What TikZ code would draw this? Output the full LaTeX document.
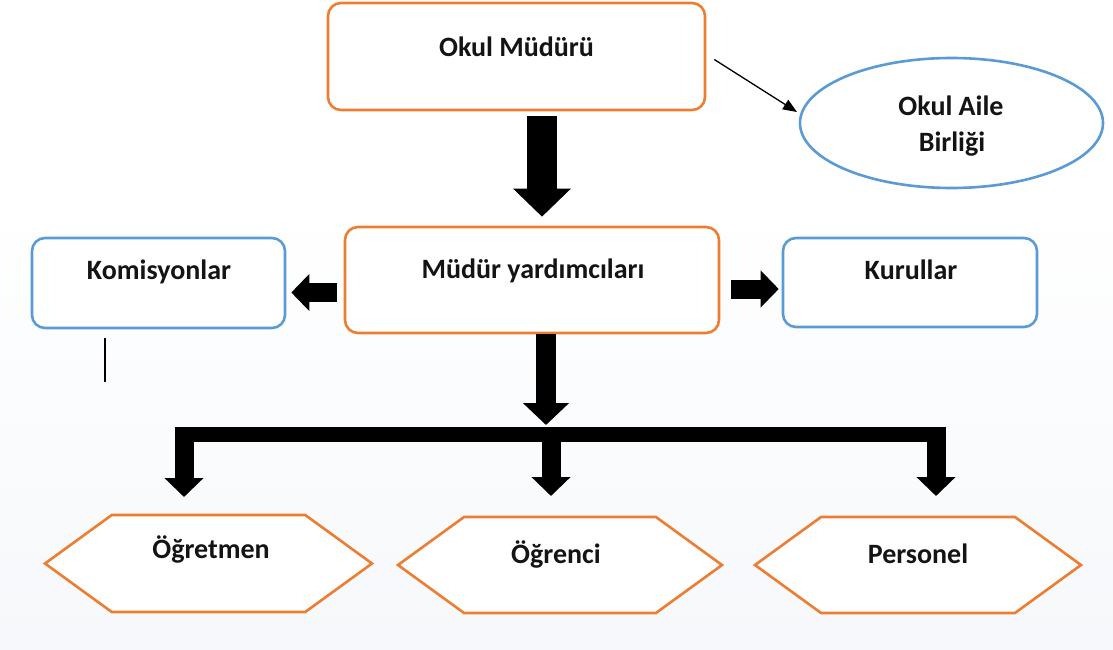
\documentclass[tikz,border=0pt]{standalone}
\usepackage{fontspec}
\setmainfont{Carlito}
\usetikzlibrary{arrows.meta,shapes.geometric,shapes.symbols,calc}
\definecolor{orng}{RGB}{237,125,49}
\definecolor{blu}{RGB}{91,155,213}
\definecolor{bgbot}{RGB}{246,248,251}
\begin{document}
\begin{tikzpicture}[x=1pt,y=-1pt,
  lbl/.style={font=\fontsize{28}{34}\selectfont\bfseries, anchor=base, inner sep=0pt, text=black!92},
  obox/.style={draw=orng, line width=2.6pt, rounded corners=13pt, fill=white, inner sep=0pt},
  bbox/.style={draw=blu, line width=2.6pt, rounded corners=13pt, fill=white, inner sep=0pt},
  hexa/.style={signal, signal to=west and east, signal pointer angle=72, draw=orng, line width=2.6pt, fill=white, inner sep=0pt},
  oval/.style={ellipse, draw=blu, line width=2.6pt, fill=white, inner sep=0pt},
  bigarrow/.style={line width=30pt, -{Triangle[length=28pt,width=56pt]}},
  sidearrow/.style={line width=19pt, -{Triangle[length=18pt,width=36pt]}},
  midarrow/.style={line width=20pt, -{Triangle[length=22pt,width=45pt]}},
  legarrow/.style={line width=19pt, -{Triangle[length=19pt,width=38pt]}},
  thinarrow/.style={line width=1.3pt, -{Triangle[length=14pt,width=11pt]}}
]
\useasboundingbox (0,0) rectangle (1113,650);
\fill[white] (0,0) rectangle (1113,650);
\shade[top color=white, bottom color=bgbot] (0,200) rectangle (1113,650);

% nodes
\node[obox, minimum width=377pt, minimum height=107pt] (om) at (516.5,56.5) {};
\node[lbl] (omt) at (516.5,57) {Okul Müdürü};

\node[oval, minimum width=303pt, minimum height=130pt] (oab) at (951.5,123) {};
\node[lbl] (oabt1) at (951,116) {Okul Aile};
\node[lbl] (oabt2) at (952,151) {Birliği};

\node[obox, minimum width=374pt, minimum height=106pt] (my) at (532,280) {};
\node[lbl] (myt) at (533,278) {Müdür yardımcıları};

\node[bbox, minimum width=253pt, minimum height=90pt] (kom) at (158.5,283) {};
\node[lbl] (komt) at (159,279) {Komisyonlar};

\node[bbox, minimum width=254pt, minimum height=89pt] (kur) at (910,282.5) {};
\node[lbl] (kurt) at (911,279) {Kurullar};

\node[hexa, minimum width=327pt, minimum height=97pt] (ogt) at (208.5,563.5) {};
\node[lbl] (ogtt) at (211,558) {Öğretmen};

\node[hexa, minimum width=324pt, minimum height=96pt] (ogr) at (560,565) {};
\node[lbl] (ogrt) at (556,563) {Öğrenci};

\node[hexa, minimum width=326pt, minimum height=96pt] (per) at (918,565) {};
\node[lbl] (pert) at (918,563) {Personel};

% coordinates for connectors
\coordinate (ax1) at (542,0);
\coordinate (ay2) at (0,292.5);
\coordinate (ay3) at (0,289);
\coordinate (ax4) at (546,0);
\coordinate (barL) at (175,434.5);
\coordinate (barR) at (946,434.5);
\coordinate (barT) at (546,425);
\coordinate (l1s) at (184,427);
\coordinate (l1e) at (184,497);
\coordinate (l2s) at (551,427);
\coordinate (l2e) at (551,496);
\coordinate (l3s) at (936,427);
\coordinate (l3e) at (936,496);
\coordinate (tae) at (797,112);
\coordinate (vl) at (105,382);

% connectors
\draw[bigarrow] ($(om.south -| ax1)+(0,5)$) -- ($(my.north -| ax1)+(0,-9)$);
\draw[thinarrow] ($(om.east)+(8,3)$) -- (tae);
\draw[sidearrow] ($(my.west |- ay2)+(-7,0)$) -- ($(kom.east |- ay2)+(5,0)$);
\draw[sidearrow] ($(my.east |- ay3)+(11,0)$) -- ($(kur.west |- ay3)+(-3,0)$);
\draw[midarrow] (my.south -| ax4) -- (barT);
\draw[line width=15pt] (barL) -- (barR);
\draw[legarrow] (l1s) -- (l1e);
\draw[legarrow] (l2s) -- (l2e);
\draw[legarrow] (l3s) -- (l3e);
\draw[line width=1.3pt] ($(kom.south -| vl)+(0,9)$) -- (vl);
\end{tikzpicture}
\end{document}
